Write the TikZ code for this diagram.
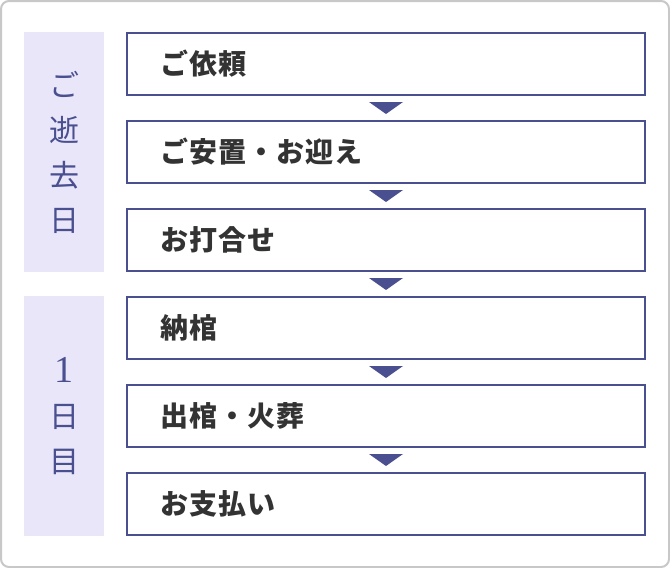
\documentclass[tikz,border=0pt]{standalone}
\usepackage{fontspec}
\setmainfont{Noto Sans CJK JP}
\newfontfamily\stepfont[LetterSpace=4]{Noto Sans CJK JP}
\newfontfamily\latinserif{Liberation Serif}
\usetikzlibrary{calc}
\definecolor{navy}{HTML}{4A4F8F}
\definecolor{lavender}{HTML}{E9E6FA}
\definecolor{framegray}{HTML}{C8C8C8}
\definecolor{textgray}{HTML}{333333}
\tikzset{
  stepbox/.style={draw=navy, line width=2pt, fill=white, minimum height=62pt,
    text width=452pt, inner xsep=33pt, inner ysep=0pt, align=left,
    font=\stepfont\bfseries\fontsize{28}{32}\selectfont, text=textgray},
  daybox/.style={fill=lavender, minimum width=80pt, minimum height=240pt,
    text=navy, align=center, font=\fontsize{30}{45}\selectfont},
  downtri/.style={fill=navy}
}

\begin{document}
\begin{tikzpicture}[x=1pt,y=-1pt]
        \useasboundingbox (0,0) rectangle (670,568);
        \draw[framegray, line width=2pt, rounded corners=8pt] (1,1) rectangle (669,567);

        \node[daybox] (d1) at (64,152) {ご\\逝\\去\\日};
        \node[daybox] (d2) at (64,416) {{\latinserif\fontsize{38}{45}\selectfont 1}\\日\\目};

        \node[stepbox] (b1) at (386,64) {ご依頼};
        \node[stepbox] (b2) at (386,152) {ご安置・お迎え};
        \node[stepbox] (b3) at (386,240) {お打合せ};
        \node[stepbox] (b4) at (386,328) {納棺};
        \node[stepbox] (b5) at (386,416) {出棺・火葬};
        \node[stepbox] (b6) at (386,504) {お支払い};

        \foreach \a/\b in {b1/b2,b2/b3,b3/b4,b4/b5,b5/b6}
            \fill[downtri] ($(\a.south)+(-17,6)$) -- ($(\a.south)+(17,6)$) -- ($(\b.north)+(0,-6)$) -- cycle;
    \end{tikzpicture}
\end{document}
